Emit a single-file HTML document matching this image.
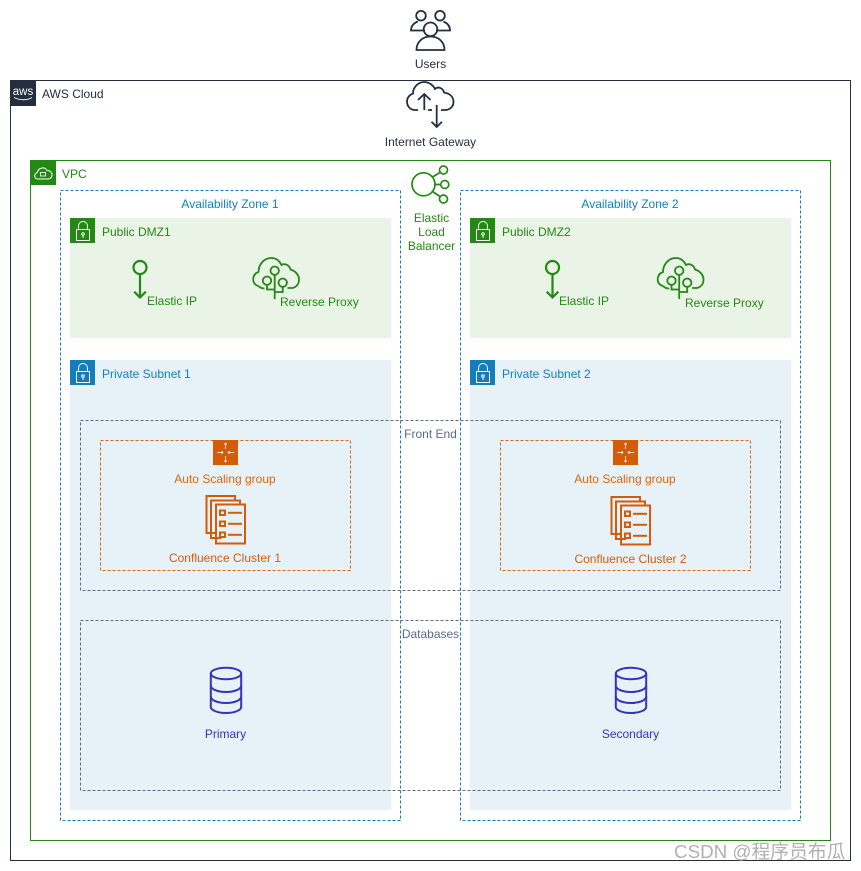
<!DOCTYPE html>
<html><head><meta charset="utf-8"><style>
html,body{margin:0;padding:0;background:#fff;width:861px;height:871px;overflow:hidden}
svg{display:block}
text{font-family:"Liberation Sans","Noto Sans CJK SC",sans-serif;font-size:12px}
</style></head><body>
<svg width="861" height="871" viewBox="0 0 861 871" xmlns="http://www.w3.org/2000/svg">
<defs>
<g id="lock" fill="none" stroke="#fff" stroke-width="1">
<rect x="6.500" y="11.500" width="13" height="11"/><path d="M8.500 11.500V8a4.500 4.500 0 0 1 9 0V11.500"/><circle cx="13" cy="16" r="1.300"/><path d="M13 17.300V20"/>
</g>
<g id="tree" fill="none" stroke="#248814" stroke-width="1.800">
<path d="M6 29C2 28 0.500 25 0.700 22C1 18 3 16 6 15C6 8 11 1 19 1C24 1 27 4 29 8C32 6 37 8 38 12.500C43 14 46.500 18 46.500 22.500C46.500 27 44 30 40 31H35"/>
<path d="M6 29C8 31 10 31.500 12 31.500"/>
<circle cx="14.500" cy="23.700" r="4.200"/><circle cx="22.200" cy="13.700" r="4.200"/><circle cx="30.200" cy="25.700" r="4.200"/>
<path d="M22.200 18V42M14.500 28V32.500H22.200M30.200 30V35H22.200"/>
</g>
<g id="docs" fill="none" stroke="#d45b07" stroke-width="2">
<path d="M10 38H1V1H29.500V5"/><path d="M15.500 43H5.500V5.500H34.500V9.500"/>
<rect x="10.500" y="9.500" width="29" height="39"/>
<rect x="14.500" y="15.500" width="5" height="4.500"/><path d="M22.500 17.800H36.500"/>
<rect x="14.500" y="26.500" width="5" height="4.500"/><path d="M22.500 28.800H36.500"/>
<rect x="14.500" y="37.500" width="5" height="4.500"/><path d="M22.500 39.800H36.500"/>
</g>
<g id="asg">
<rect width="25" height="25" fill="#d45b07"/>
<g fill="none" stroke="#fff" stroke-width="0.700"><path d="M12.500 3V9M11 4.500L12.500 3L14 4.500M12.500 16V22M11 20.500L12.500 22L14 20.500M4 12.500H10M8.500 11L10 12.500L8.500 14M15 12.500H21M16.500 11L15 12.500L16.500 14"/></g>
</g>
<g id="db" fill="none" stroke="#3334b9" stroke-width="2">
<ellipse cx="16" cy="6.500" rx="15.200" ry="5.700"/>
<path d="M0.800 6.500V40C0.800 43 7 46 16 46C25 46 31.200 43 31.200 40V6.500"/>
<path d="M0.800 18.500C0.800 22 7 25 16 25C25 25 31.200 22 31.200 18.500M0.800 29.500C0.800 33 7 36 16 36C25 36 31.200 33 31.200 29.500"/>
</g>
<g id="eip" fill="none" stroke="#248814" stroke-width="2.200">
<circle cx="8" cy="7.500" r="6.500"/><path d="M8 14V37.500M2.200 31.700L8 37.500L13.800 31.700"/>
</g>
</defs>

<rect width="861" height="871" fill="#fff"/>

<!-- AWS Cloud -->
<rect x="10.500" y="80.500" width="840" height="780" fill="#fff" stroke="#232f3e"/>
<rect x="11" y="81" width="25" height="25" fill="#232f3e"/>
<text x="23" y="95" text-anchor="middle" fill="#fff" style="font-size:11.500px">aws</text>
<path d="M14 97.500C20 100.500 27 100.500 32 97.500" fill="none" stroke="#fff" stroke-width="0.900"/>
<text x="42" y="98" fill="#232f3e">AWS Cloud</text>

<!-- VPC -->
<rect x="30.500" y="160.500" width="800" height="680" fill="#fff" stroke="#248814"/>
<rect x="30" y="160" width="26" height="25" fill="#248814"/>
<path d="M38 179C34 179 33.500 173.500 37.500 172.500C38 168 44.500 166 47 170.500C50.500 170.500 52.500 173 52 175.500C51.500 178 50 179 48 179Z" fill="none" stroke="#fff"/>
<rect x="40.500" y="172.500" width="5" height="3.500" fill="none" stroke="#fff" stroke-width="0.800"/>
<text x="62" y="178" fill="#248814">VPC</text>

<!-- Subnet fills -->
<rect x="70" y="218" width="321" height="120" fill="#e9f3e6"/>
<rect x="470" y="218" width="321" height="120" fill="#e9f3e6"/>
<rect x="70" y="360" width="321" height="450" fill="#e6f2f8"/>
<rect x="470" y="360" width="321" height="450" fill="#e6f2f8"/>

<!-- AZ -->
<rect x="60.500" y="190.500" width="340" height="630" fill="none" stroke="#147eba" stroke-dasharray="3 2"/>
<rect x="460.500" y="190.500" width="340" height="630" fill="none" stroke="#147eba" stroke-dasharray="3 2"/>
<text x="230" y="208" text-anchor="middle" fill="#147eba">Availability Zone 1</text>
<text x="630" y="208" text-anchor="middle" fill="#147eba">Availability Zone 2</text>

<!-- Subnet headers -->
<rect x="70" y="218" width="25" height="25" fill="#248814"/><use href="#lock" x="70" y="218"/>
<text x="102" y="236" fill="#248814">Public DMZ1</text>
<rect x="470" y="218" width="25" height="25" fill="#248814"/><use href="#lock" x="470" y="218"/>
<text x="502" y="236" fill="#248814">Public DMZ2</text>
<rect x="70" y="360" width="25" height="25" fill="#147eba"/><use href="#lock" x="70" y="360"/>
<text x="102" y="378" fill="#147eba">Private Subnet 1</text>
<rect x="470" y="360" width="25" height="25" fill="#147eba"/><use href="#lock" x="470" y="360"/>
<text x="502" y="378" fill="#147eba">Private Subnet 2</text>

<!-- Elastic IP / Proxy -->
<use href="#eip" x="132" y="260"/>
<text x="147" y="305" fill="#248814">Elastic IP</text>
<use href="#tree" x="252.500" y="257"/>
<text x="280" y="306" fill="#248814">Reverse Proxy</text>
<use href="#eip" x="544.500" y="260"/>
<text x="559" y="305" fill="#248814">Elastic IP</text>
<use href="#tree" x="657" y="257"/>
<text x="685" y="307" fill="#248814">Reverse Proxy</text>

<!-- Groups -->
<rect x="80.500" y="420.500" width="700" height="170" fill="none" stroke="#5a6c86" stroke-dasharray="3 2"/>
<text x="430.500" y="438" text-anchor="middle" fill="#5a6c86">Front End</text>
<rect x="80.500" y="620.500" width="700" height="170" fill="none" stroke="#5a6c86" stroke-dasharray="3 2"/>
<text x="430.500" y="638" text-anchor="middle" fill="#5a6c86">Databases</text>

<!-- ASG -->
<rect x="100.500" y="440.500" width="250" height="130" fill="none" stroke="#d86613" stroke-dasharray="3 2"/>
<rect x="500.500" y="440.500" width="250" height="130" fill="none" stroke="#d86613" stroke-dasharray="3 2"/>
<use href="#asg" x="213" y="440"/><use href="#asg" x="613" y="440"/>
<text x="225" y="483" text-anchor="middle" fill="#d86613">Auto Scaling group</text>
<text x="625" y="483" text-anchor="middle" fill="#d86613">Auto Scaling group</text>
<use href="#docs" x="205.500" y="495"/>
<text x="225" y="562" text-anchor="middle" fill="#d45b07">Confluence Cluster 1</text>
<use href="#docs" x="610.500" y="496"/>
<text x="630.500" y="563" text-anchor="middle" fill="#d45b07">Confluence Cluster 2</text>

<!-- DB -->
<use href="#db" x="210" y="667"/>
<text x="225.500" y="738" text-anchor="middle" fill="#3334b9">Primary</text>
<use href="#db" x="615" y="667"/>
<text x="630.500" y="738" text-anchor="middle" fill="#3334b9">Secondary</text>

<!-- Users -->
<g fill="none" stroke="#232f3e" stroke-width="1.800">
<circle cx="421" cy="15.700" r="4.800"/><circle cx="440" cy="15.700" r="4.800"/>
<path d="M425 30.500H411C411 26 414 23 418 21.500M443.500 21.500C447 23 450 26 450 30.500H436"/>
<circle cx="430.500" cy="29.300" r="6.800"/>
<path d="M416.500 50C416.500 42 422.500 36.500 430.500 36.500C438.500 36.500 444.500 42 444.500 50Z"/>
</g>
<text x="430.500" y="68" text-anchor="middle" fill="#232f3e">Users</text>

<!-- Internet Gateway -->
<g fill="none" stroke="#232f3e" stroke-width="1.800">
<path d="M418 110H415C410 110 407 106 407 101.500C407 97.500 410 94.500 413 93.500C413 86.500 419 82 424 82C429 82 433 85 435 89C438 86 443 88 444 92.500C450 93.500 453.500 97 453.500 102C453.500 107 449.500 110 445 110H441"/>
<path d="M424.300 110V94M418 100L424.300 94L430.500 100"/>
<path d="M428 110H432"/>
<path d="M436.700 105V127M431.500 121.700L436.700 127L442 121.700"/>
</g>
<text x="430.500" y="146" text-anchor="middle" fill="#232f3e">Internet Gateway</text>

<!-- ELB -->
<g fill="none" stroke="#248814" stroke-width="1.700">
<circle cx="423.500" cy="184.300" r="11.500"/><circle cx="443.500" cy="170" r="4"/><circle cx="444.800" cy="184.500" r="4"/><circle cx="443.500" cy="199" r="4"/>
<path d="M432.500 177L440 172.500M435 184.500H440.800M432.500 191.500L440 196.500"/>
</g>
<g fill="#248814" text-anchor="middle">
<text x="431.500" y="222">Elastic</text><text x="431.500" y="236">Load</text><text x="431.500" y="250">Balancer</text>
</g>

<!-- Watermark -->
<text x="674" y="858" fill="#b0b0b0" style="font-size:18.800px">CSDN @程序员布瓜</text>
</svg>
</body></html>
